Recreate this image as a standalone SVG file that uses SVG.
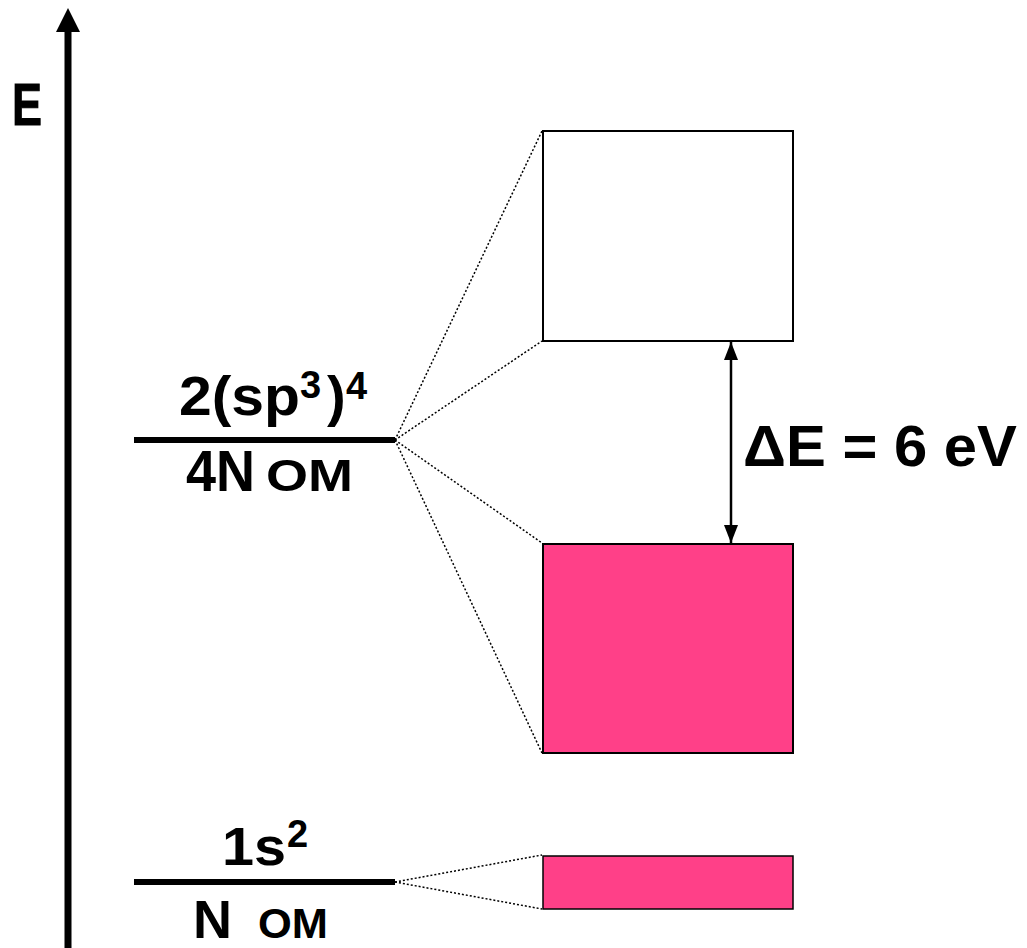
<svg xmlns="http://www.w3.org/2000/svg" width="1027" height="948" viewBox="0 0 1027 948">
<style>
.t{font-family:"Liberation Sans",Arial,sans-serif;font-weight:bold;fill:#000}
.lvl{stroke:#000;stroke-width:6}
.dot{stroke:#000;stroke-width:1.5;stroke-dasharray:2 2;fill:none}
.band{stroke:#000;stroke-width:2}
</style>
<defs>
<marker id="ah" viewBox="0 0 18 14" refX="18" refY="7" markerWidth="18" markerHeight="14" markerUnits="userSpaceOnUse" orient="auto-start-reverse">
<path d="M0,0 L18,7 L0,14 z" fill="#000"/>
</marker>
</defs>
<rect width="1027" height="948" fill="#fff"/>
<g id="axis">
<line x1="68" y1="948" x2="68" y2="30" stroke="#000" stroke-width="7"/>
<path d="M56,32 L68,8 L80,32 z" fill="#000"/>
<text class="t" x="12" y="125" font-size="60" textLength="30" lengthAdjust="spacingAndGlyphs" stroke="#000" stroke-width="1">E</text>
</g>
<g id="connectors">
<line class="dot" x1="395" y1="440" x2="542" y2="131"/>
<line class="dot" x1="395" y1="440" x2="542" y2="341"/>
<line class="dot" x1="395" y1="440" x2="542" y2="543"/>
<line class="dot" x1="395" y1="440" x2="542" y2="753"/>
<line class="dot" x1="395" y1="882" x2="542" y2="855"/>
<line class="dot" x1="395" y1="882" x2="542" y2="909"/>
<line x1="731" y1="342" x2="731" y2="543" stroke="#000" stroke-width="2.5" marker-start="url(#ah)" marker-end="url(#ah)"/>
</g>
<g id="level-sp3">
<line class="lvl" x1="134" y1="440" x2="395" y2="440"/>
<text class="t" x="179" y="415" font-size="56" textLength="121" lengthAdjust="spacingAndGlyphs">2(sp</text>
<text class="t" x="300" y="398" font-size="38">3</text>
<text class="t" x="327" y="415" font-size="56">)</text>
<text class="t" x="346" y="399" font-size="38">4</text>
<text class="t" x="186" y="491" font-size="58" textLength="69" lengthAdjust="spacingAndGlyphs">4N</text>
<text class="t" x="266" y="491" font-size="45" textLength="87" lengthAdjust="spacingAndGlyphs">OM</text>
</g>
<g id="level-1s">
<line class="lvl" x1="134" y1="882" x2="395" y2="882"/>
<text class="t" x="222" y="865" font-size="53" textLength="64" lengthAdjust="spacingAndGlyphs">1s</text>
<text class="t" x="287" y="847" font-size="38">2</text>
<text class="t" x="193" y="938" font-size="54">N</text>
<text class="t" x="258" y="938" font-size="42" textLength="70" lengthAdjust="spacingAndGlyphs">OM</text>
</g>
<g id="band-conduction">
<rect class="band" x="543" y="131" width="250" height="210" fill="#fff"/>
</g>
<g id="band-valence">
<rect class="band" x="543" y="544" width="250" height="209" fill="#FF4088"/>
</g>
<g id="band-1s">
<rect x="543" y="856" width="250" height="53" fill="#FF4088" stroke="#000" stroke-width="1.5"/>
</g>
<g id="gap-label">
<text class="t" x="743" y="466" font-size="57" textLength="274" lengthAdjust="spacingAndGlyphs">ΔE = 6 eV</text>
</g>
</svg>
